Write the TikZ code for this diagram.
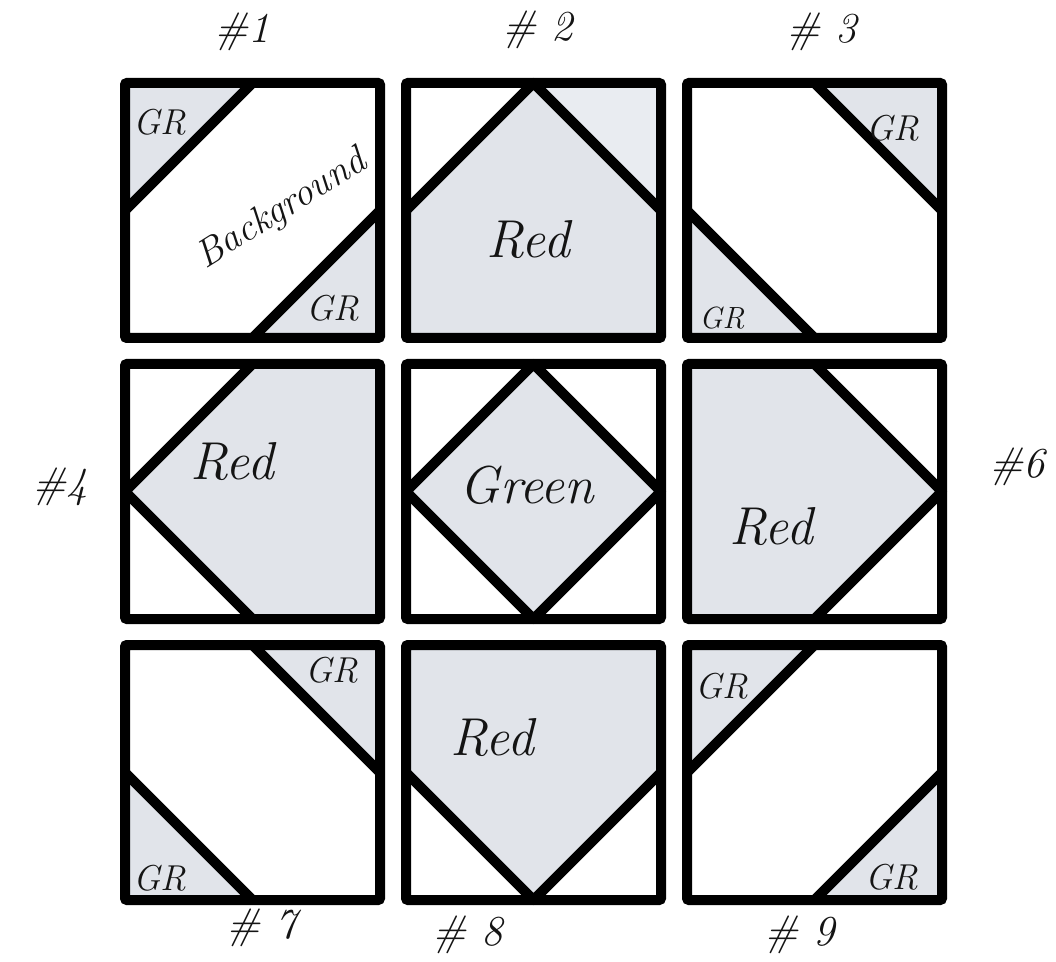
\documentclass[tikz,border=0pt]{standalone}
\usepackage{tikz}
\definecolor{patch}{HTML}{E1E4EA}
\definecolor{patchlite}{HTML}{E9ECF1}
\definecolor{ink}{HTML}{141414}

\begin{document}
\begin{tikzpicture}[x=0.75pt,y=-0.75pt,
    frame/.style={draw=black,line width=7.5pt,rounded corners=1.5pt},
    seam/.style={draw=black,line width=7.5pt,line join=round},
    pen/.style={font=\itshape\fontsize{27}{29}\selectfont,text=ink,inner sep=0pt},
    bigpen/.style={font=\itshape\fontsize{40}{44}\selectfont,text=ink,inner sep=0pt},
    tag/.style={font=\itshape\fontsize{32}{34}\selectfont,text=ink,inner sep=0pt}]
  \fill[white] (0,0) rectangle (1056,962);
  \useasboundingbox (0,0) rectangle (1056,962);
  % corner and side points of the nine blocks
  \foreach \n/\x/\y in {1/125/83,2/406/83,3/687/83,4/125/364,5/406/364,6/687/364,7/125/645,8/406/645,9/687/645} {
    \coordinate (b\n-tl) at (\x,\y);
    \coordinate (b\n-tr) at (\x+255,\y);
    \coordinate (b\n-bl) at (\x,\y+255);
    \coordinate (b\n-br) at (\x+255,\y+255);
    \coordinate (b\n-tm) at (\x+127.5,\y);
    \coordinate (b\n-bm) at (\x+127.5,\y+255);
    \coordinate (b\n-lm) at (\x,\y+127.5);
    \coordinate (b\n-rm) at (\x+255,\y+127.5);
  }
  % fabric patches
  \fill[patch] (b1-tl) -- (b1-tm) -- (b1-lm) -- cycle;
  \fill[patch] (b1-br) -- (b1-bm) -- (b1-rm) -- cycle;
  \fill[patch] (b2-lm) -- (b2-tm) -- (b2-rm) -- (b2-br) -- (b2-bl) -- cycle;
  \fill[patchlite] (b2-tm) -- (b2-tr) -- (b2-rm) -- cycle;
  \fill[patch] (b3-tr) -- (b3-tm) -- (b3-rm) -- cycle;
  \fill[patch] (b3-bl) -- (b3-lm) -- (b3-bm) -- cycle;
  \fill[patch] (b4-lm) -- (b4-tm) -- (b4-tr) -- (b4-br) -- (b4-bm) -- cycle;
  \fill[patch] (b5-tm) -- (b5-rm) -- (b5-bm) -- (b5-lm) -- cycle;
  \fill[patch] (b6-tl) -- (b6-tm) -- (b6-rm) -- (b6-bm) -- (b6-bl) -- cycle;
  \fill[patch] (b7-tr) -- (b7-tm) -- (b7-rm) -- cycle;
  \fill[patch] (b7-bl) -- (b7-lm) -- (b7-bm) -- cycle;
  \fill[patch] (b8-tl) -- (b8-tr) -- (b8-rm) -- (b8-bm) -- (b8-lm) -- cycle;
  \fill[patch] (b9-tl) -- (b9-tm) -- (b9-lm) -- cycle;
  \fill[patch] (b9-br) -- (b9-bm) -- (b9-rm) -- cycle;
  % seams
  \draw[seam] (b1-tm) -- (b1-lm);
  \draw[seam] (b1-bm) -- (b1-rm);
  \draw[seam] (b2-lm) -- (b2-tm) -- (b2-rm);
  \draw[seam] (b3-tm) -- (b3-rm);
  \draw[seam] (b3-lm) -- (b3-bm);
  \draw[seam] (b4-tm) -- (b4-lm) -- (b4-bm);
  \draw[seam] (b5-tm) -- (b5-rm) -- (b5-bm) -- (b5-lm) -- cycle;
  \draw[seam] (b6-tm) -- (b6-rm) -- (b6-bm);
  \draw[seam] (b7-tm) -- (b7-rm);
  \draw[seam] (b7-lm) -- (b7-bm);
  \draw[seam] (b8-lm) -- (b8-bm) -- (b8-rm);
  \draw[seam] (b9-tm) -- (b9-lm);
  \draw[seam] (b9-bm) -- (b9-rm);
  \foreach \n in {1,...,9}
    \draw[frame] (b\n-tl) rectangle (b\n-br);
  % colour notes
  \node[pen] (gr1a) at (160,122) {GR};
  \node[pen] (gr1b) at (333,308) {GR};
  \node[pen,font=\itshape\fontsize{29}{31}\selectfont,rotate=32] (bg1) at (282,210) {Background};
  \node[bigpen] (red2) at (528,240) {Red};
  \node[pen] (gr3a) at (893,128) {GR};
  \node[pen,font=\itshape\fontsize{23}{25}\selectfont] (gr3b) at (722,318) {GR};
  \node[bigpen] (red4) at (232,462) {Red};
  \node[bigpen] (green5) at (527,485) {Green};
  \node[bigpen] (red6) at (771,527) {Red};
  \node[pen] (gr7a) at (332,670) {GR};
  \node[pen] (gr7b) at (160,878) {GR};
  \node[bigpen] (red8) at (492,738) {Red};
  \node[pen] (gr9a) at (722,686) {GR};
  \node[pen] (gr9b) at (892,877) {GR};
  % block numbers
  \node[tag] (n1) at (242,32) {\#1};
  \node[tag] (n2) at (538,30) {\# 2};
  \node[tag] (n3) at (822,32) {\# 3};
  \node[tag] (n4) at (60,487) {\#4};
  \node[tag] (n6) at (1017,467) {\#6};
  \node[tag] (n7) at (262,928) {\# 7};
  \node[tag] (n8) at (468,935) {\# 8};
  \node[tag] (n9) at (800,935) {\# 9};
\end{tikzpicture}
\end{document}
